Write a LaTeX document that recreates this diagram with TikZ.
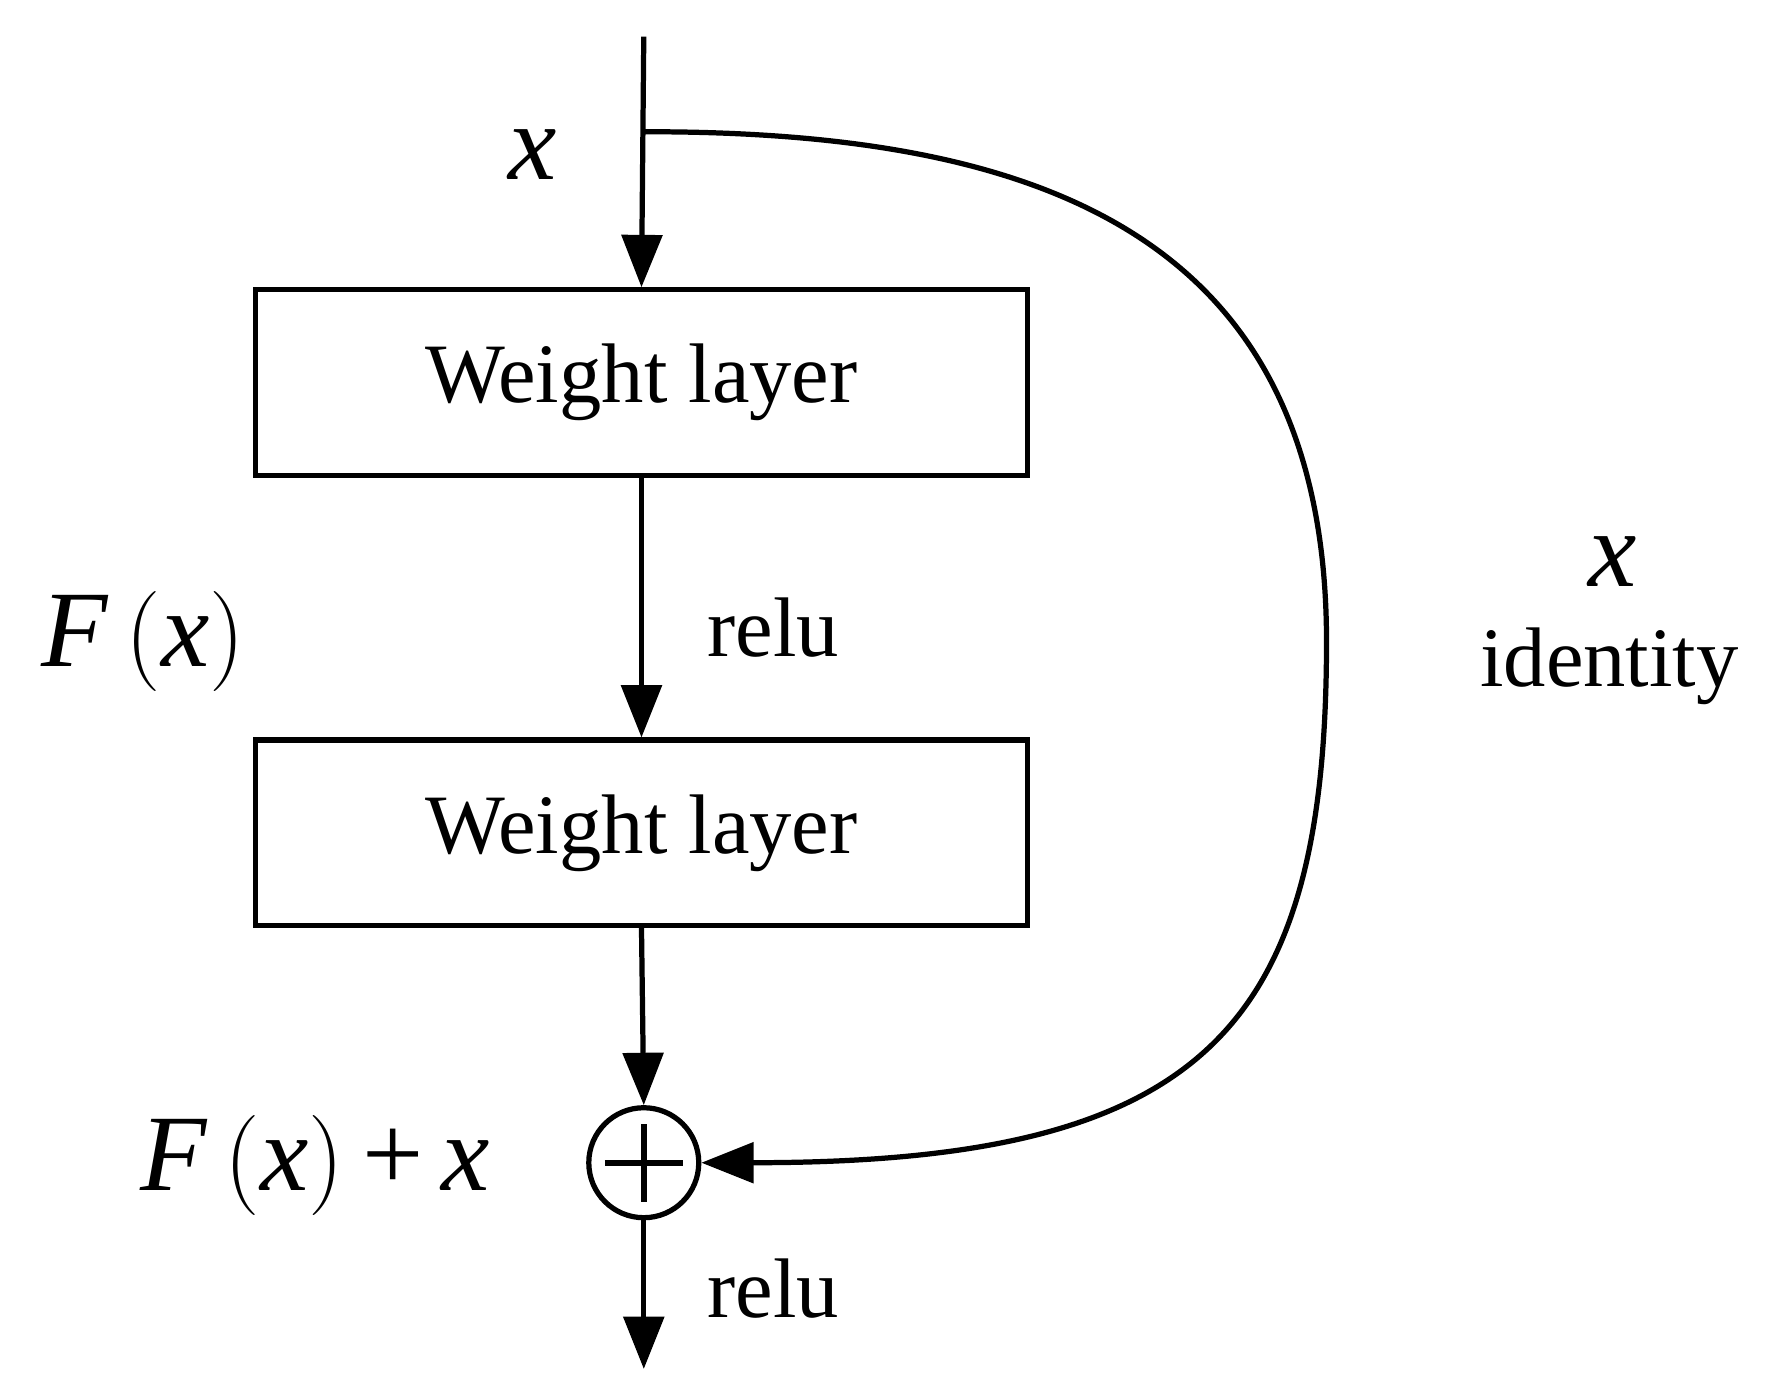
\documentclass[tikz,border=0pt]{standalone}
\usepackage{fontspec}
\setmainfont{Liberation Serif}
\usetikzlibrary{arrows.meta}
\begin{document}
\begin{tikzpicture}[x=0.1mm,y=-0.1mm,
  every path/.style={line width=1.3pt},
  arr/.style={-{Triangle[length=13pt,width=10pt]}},
  box/.style={draw,line width=1.3pt,minimum width=674*0.1mm,minimum height=162*0.1mm,inner sep=0pt},
  txt/.style={font=\fontsize{21}{24}\selectfont},
  mth/.style={font=\fontsize{27}{30}\selectfont\itshape}]
\useasboundingbox (0,0) rectangle (1560,1222);
\coordinate (top) at (562,32);
\coordinate (split) at (562,115);
\node[box] (w1) at (560,334) {};
\node[txt] at (w1.center) {Weight layer};
\node[box] (w2) at (560,727) {};
\node[txt] at (w2.center) {Weight layer};
\node[draw,circle,minimum size=96*0.1mm,inner sep=0pt,line width=1.3pt] (sum) at (562,1015) {};
\draw[line width=1.6pt] ([yshift=-3.4mm]sum.center) -- ([yshift=3.4mm]sum.center)
  ([xshift=-3.4mm]sum.center) -- ([xshift=3.4mm]sum.center);
\coordinate (out) at (562,1195);
\draw[arr] (top) -- (w1.north);
\draw[arr] (w1.south) -- (w2.north);
\draw[arr] (w2.south) -- (sum.north);
\draw[arr] (sum.south) -- (out);
\draw[arr] (split) -- (565,115) .. controls (900,115) and (1158,200) .. (1158,560)
  .. controls (1158,900) and (1050,1015) .. (sum.east);
\node[mth] (lx) at (465,135) {x};
\node[mth] (lf) at (125,560) {F\,$\left(\mbox{\itshape x}\right)$};
\node[txt] (r1) at (675,548) {relu};
\node[mth] (lfx) at (275,1017) {F\,$\left(\mbox{\itshape x}\right)$\,{\upshape+}\,x};
\node[txt] (r2) at (675,1125) {relu};
\node[mth] (ix) at (1408,490) {x};
\node[txt] (id) at (1405,582) {identity};
\end{tikzpicture}
\end{document}
